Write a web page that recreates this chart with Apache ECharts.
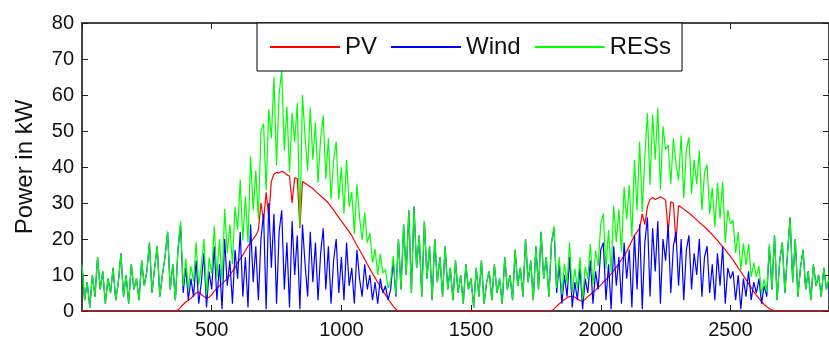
<!DOCTYPE html>
<html><head><meta charset="utf-8">
<script src="https://cdn.jsdelivr.net/npm/echarts@6/dist/echarts.min.js"></script>
<style>html,body{margin:0;padding:0;background:#fff}#c{width:829px;height:345px}</style>
</head><body><div id="c"></div>
<script>
// time resolution of the read-off samples (x in minutes)
const sampleStep = 10;
const xMax = 2880;
const xInterval = 500;
const yMax = 80;
const yInterval = 10;
const seriesNames = ['PV', 'Wind', 'RESs'];

// PV power (kW), one value every 10 units, x = 0 .. 2880
const pv = [
  0,0,0,0,0,0,0,0,0,0,
  0,0,0,0,0,0,0,0,0,0,
  0,0,0,0,0,0,0,0,0,0,
  0,0,0,0,0,0,0,
  0.3,1,1.8,2.5,3,3.5,4.3,5,5.2,4.6,
  4,3.5,3.8,4.5,5.5,6.3,7,7.6,8.3,9,
  10,11,12,13.5,14.5,15.5,16.8,18,19,20,
  21,22.5,30,25,33,26,36,38,38.5,38.3,
  38.8,38.5,37.8,37.5,30,37,36.8,23,36,35.5,
  35,34.5,34,33.3,32.6,32,31.3,30.7,30,29,
  28,27,26,25,24,23,22,21,19.5,18.2,
  17,15.7,14.4,13,11.7,10.4,9.2,8,6.8,5.6,
  4.5,3.4,2.3,1.3,0.5,0,
  0,0,0,0,0,0,0,0,0,0,
  0,0,0,0,0,0,0,0,0,0,
  0,0,0,0,0,0,0,0,0,0,
  0,0,0,0,0,0,0,0,0,0,
  0,0,0,0,0,0,0,0,0,0,
  0,0,0,0,0,0,0,0,
  0,0.6,1.3,2,2.6,3.2,3.7,4,4.1,3.8,
  3.3,2.9,2.7,3.3,4,4.6,5.2,5.8,6.5,7.2,
  8,8.7,9.5,10.3,11.2,12.2,13.2,14.3,15.4,16.5,
  18,19.5,21,22,23,27,24,29,31,31.5,
  31,31.3,31.7,31.3,30.8,22,30.3,30,19,29.3,
  28.8,28.3,27.7,27.2,26.6,26,25.3,24.6,24,23.4,
  22.7,22,21.2,20.4,19.6,18.7,17.9,17,16.1,15.2,
  14.2,13.1,12,10.9,9.8,8.7,7.6,6.5,5.4,4.4,
  3.5,2.6,1.8,1.2,0.7,0.3,0.1,0,
  0,0,0,0,0,0,0,0,0,0,
  0,0,0,0,0,0,0,0,0,0
];

// Wind power (kW), one value every 10 units, x = 0 .. 2880
const wind = [
  13,3,8,1,10,4,15,6,11,2,
  9,5,12,3,8,16,4,10,2,13,
  6,9,3,14,7,11,19,5,12,18,
  4,10,15,22,6,13,3,17,24,5,
  12,3,9,4,14,2,8,16,1,11,
  6,18,3,13,0.5,20,7,14,2,17,
  9,22,4,15,1,24,8,18,3,20,
  27,0.5,30,12,27,2,22,28,6,19,
  1,25,10,21,0.5,24,13,4,22,8,
  19,3,16,23,6,18,2,14,20,5,
  15,3,19,7,12,2,17,9,4,13,
  6,10,3,8,2,9,5,7,3,6,
  14,4,20,6,24,10,28,5,29,12,
  21,4,25,9,18,3,20,8,15,4,
  18,6,12,3,14,5,10,2,13,6,
  9,1,12,4,14,2,8,11,3,13,
  5,9,2,15,6,10,3,17,7,12,
  4,20,8,14,3,18,6,22,9,15,
  4,19,23,5,13,2,10,4,15,1,
  8,3,12,0.5,9,5,14,2,11,6,
  17,19,3,13,0.5,18,7,15,2,19,
  9,17,1,21,6,24,0.5,19,26,4,
  23,11,25,2,20,14,24,5,18,22,
  7,20,3,17,21,6,16,10,20,4,
  15,18,5,13,3,16,7,18,2,12,
  9,11,3,10,0.5,9,4,11,3,8,
  5,9,2,7,4,18,6,21,3,14,
  19,5,16,26,8,20,4,12,17,6,
  11,3,13,7,10,4,12,6,9
];

// RESs is by definition the total renewable output: PV + Wind
const res = pv.map((v, i) => v + wind[i]);

const colors = ['#ff0000', '#0000ff', '#00ff00'];
const toPairs = arr => arr.map((v, i) => [i * sampleStep, v]);

const axisColor = '#444';
const font = 'Liberation Sans, Arial, sans-serif';

const chart = echarts.init(document.getElementById('c'), null, {renderer: 'canvas'});
chart.setOption({
  animation: false,
  textStyle: {fontFamily: font},
  grid: {left: 82, top: 23, width: 747, height: 288, containLabel: false},
  legend: {
    data: seriesNames,
    left: 257, top: 23,
    padding: [12, 11, 12, 13],
    itemGap: 14,
    itemWidth: 70, itemHeight: 2,
    icon: 'rect',
    borderColor: '#000', borderWidth: 1,
    backgroundColor: '#fff',
    textStyle: {fontSize: 24, color: '#111', fontFamily: font},
    z: 10
  },
  xAxis: [{
    type: 'value', min: 0, max: xMax, interval: xInterval, position: 'bottom',
    axisLine: {show: true, lineStyle: {color: axisColor, width: 2}},
    axisTick: {show: true, inside: true, length: 6, lineStyle: {color: '#222', width: 1}},
    axisLabel: {show: true, showMinLabel: false, showMaxLabel: false, fontSize: 20, color: '#111', margin: 9, fontFamily: font,
      formatter: v => String(v)},
    splitLine: {show: false}
  }, {
    type: 'value', min: 0, max: xMax, interval: xInterval, position: 'top',
    axisLine: {show: true, onZero: false, lineStyle: {color: axisColor, width: 2}},
    axisTick: {show: true, inside: true, length: 6, lineStyle: {color: '#222', width: 1}},
    axisLabel: {show: false},
    splitLine: {show: false}
  }],
  yAxis: [{
    type: 'value', min: 0, max: yMax, interval: yInterval, position: 'left',
    name: 'Power in kW', nameLocation: 'middle', nameGap: 45, nameRotate: 90,
    nameTextStyle: {fontSize: 24, color: '#111', fontFamily: font},
    axisLine: {show: true, lineStyle: {color: axisColor, width: 2}},
    axisTick: {show: true, inside: true, length: 6, lineStyle: {color: '#222', width: 1}},
    axisLabel: {fontSize: 20, color: '#111', margin: 8, fontFamily: font, formatter: v => String(v)},
    splitLine: {show: false}
  }, {
    type: 'value', min: 0, max: yMax, interval: yInterval, position: 'right',
    axisLine: {show: true, onZero: false, lineStyle: {color: axisColor, width: 2}},
    axisTick: {show: true, inside: true, length: 6, lineStyle: {color: '#222', width: 1}},
    axisLabel: {show: false},
    splitLine: {show: false}
  }],
  series: [pv, wind, res].map((arr, k) => ({
    name: seriesNames[k],
    type: 'line',
    xAxisIndex: 0, yAxisIndex: 0,
    data: toPairs(arr),
    showSymbol: false,
    symbol: 'none',
    sampling: null,
    color: colors[k],
    lineStyle: {color: colors[k], width: 1.2},
    emphasis: {disabled: true}
  }))
});
</script>
</body></html>
